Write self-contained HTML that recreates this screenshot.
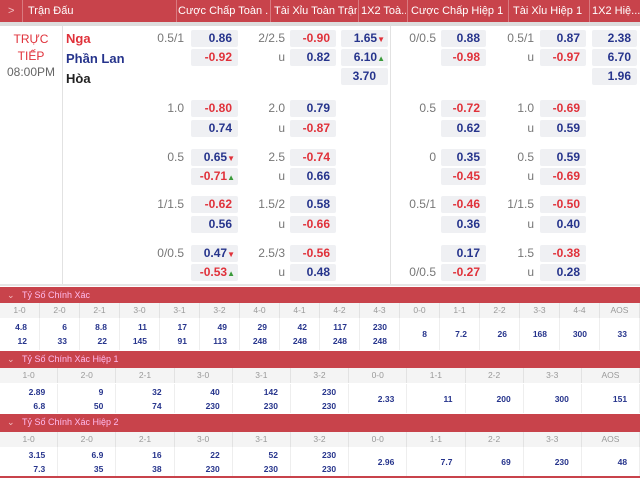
<!DOCTYPE html>
<html><head><meta charset="utf-8"><style>
*{margin:0;padding:0;box-sizing:border-box}
body{width:640px;height:478px;overflow:hidden;background:#fff;font-family:"Liberation Sans","Noto Sans CJK SC",sans-serif;position:relative}
.a{position:absolute}
.hd{left:0;top:0;width:640px;height:22px;background:#c8434b}
.ht{position:absolute;top:5px;color:#fff;font-size:11px;white-space:nowrap;overflow:hidden}
.hs{position:absolute;top:0;width:1px;height:22px;background:#d97a80}
.c{position:absolute;height:17px;background:#eff0f3;border-radius:2px;font-size:12px;font-weight:bold;text-align:right;padding-right:6px;line-height:17px}
.b{color:#26348c}.r{color:#e0313a}
.l{position:absolute;font-size:12px;color:#777;text-align:right;line-height:17px;width:40px}
.dn{color:#e0313a;font-size:8px}.up{color:#3a9a3a;font-size:8px}
.bar{position:absolute;left:0;width:640px;background:#c8434b;color:#fbe;font-size:9px;line-height:16px;padding-left:22px}
.bar span{position:absolute;left:7px;color:#f3c0c3}
.row{position:absolute;left:0;width:640px;display:flex;background:#f4f4f4;height:15px}
.row div{flex:1;text-align:center;font-size:8.5px;color:#999;line-height:15px;border-right:1px solid #e2e2e2}
.vr{position:absolute;left:0;width:640px;display:flex}
.vr div{flex:1;text-align:right;padding-right:12px;font-size:8.5px;font-weight:bold;color:#26348c;border-right:1px solid #eee;display:flex;flex-direction:column;justify-content:center;line-height:14px}
</style></head><body>
<div class="a hd">
<div class="ht" style="left:8px;color:#f3c0c3">&gt;</div><div class="hs" style="left:22px"></div>
<div class="ht" style="left:28px">Trận Đấu</div><div class="hs" style="left:176px"></div>
<div class="ht" style="left:178px;width:90px">Cược Chấp Toàn ...</div><div class="hs" style="left:270px"></div>
<div class="ht" style="left:274px;width:83px">Tài Xỉu Toàn Trận</div><div class="hs" style="left:358px"></div>
<div class="ht" style="left:361px;width:45px">1X2 Toà...</div><div class="hs" style="left:407px"></div>
<div class="ht" style="left:411px;width:96px">Cược Chấp Hiệp 1</div><div class="hs" style="left:508px"></div>
<div class="ht" style="left:513px;width:75px">Tài Xỉu Hiệp 1</div><div class="hs" style="left:589px"></div>
<div class="ht" style="left:592px;width:48px">1X2 Hiệ...</div>
</div>
<div class="a" style="left:0;top:22px;width:640px;height:4px;background:#ddd"></div>
<div class="a" style="left:62px;top:26px;width:1px;height:259px;background:#e2e2e2"></div>
<div class="a" style="left:390px;top:26px;width:1px;height:259px;background:#e2e2e2"></div>
<div class="a" style="left:0;top:284px;width:640px;height:2px;background:#e6e6e6"></div>
<div class="a" style="left:0;top:31px;width:62px;text-align:center;color:#e0313a;font-size:12px;line-height:17px">TRỰC<br>TIẾP</div>
<div class="a" style="left:0;top:65px;width:62px;text-align:center;color:#666;font-size:12px">08:00PM</div>
<div class="a" style="left:66px;top:31px;font-size:13px;font-weight:bold;color:#e0313a">Nga</div>
<div class="a" style="left:66px;top:51px;font-size:13px;font-weight:bold;color:#26348c">Phần Lan</div>
<div class="a" style="left:66px;top:71px;font-size:13px;font-weight:bold;color:#222">Hòa</div>

<div class="l" style="left:144px;top:30px">0.5/1</div>
<div class="c b" style="left:191px;top:30px;width:47px">0.86</div>
<div class="c r" style="left:191px;top:49px;width:47px">-0.92</div>
<div class="l" style="left:245px;top:30px">2/2.5</div>
<div class="c r" style="left:290px;top:30px;width:46px">-0.90</div>
<div class="l" style="left:245px;top:49px">u</div>
<div class="c b" style="left:290px;top:49px;width:46px">0.82</div>
<div class="c b" style="left:341px;top:30px;width:47px;padding-right:3px">1.65<span class="dn">▼</span></div>
<div class="c b" style="left:341px;top:49px;width:47px;padding-right:3px">6.10<span class="up">▲</span></div>
<div class="c b" style="left:341px;top:68px;width:47px;padding-right:12px">3.70</div>
<div class="l" style="left:396px;top:30px">0/0.5</div>
<div class="c b" style="left:441px;top:30px;width:45px">0.88</div>
<div class="c r" style="left:441px;top:49px;width:45px">-0.98</div>
<div class="l" style="left:494px;top:30px">0.5/1</div>
<div class="c b" style="left:540px;top:30px;width:46px">0.87</div>
<div class="l" style="left:494px;top:49px">u</div>
<div class="c r" style="left:540px;top:49px;width:46px">-0.97</div>
<div class="c b" style="left:592px;top:30px;width:45px">2.38</div>
<div class="c b" style="left:592px;top:49px;width:45px">6.70</div>
<div class="c b" style="left:592px;top:68px;width:45px">1.96</div>

<div class="l" style="left:144px;top:100px">1.0</div>
<div class="c r" style="left:191px;top:100px;width:47px">-0.80</div>
<div class="c b" style="left:191px;top:120px;width:47px">0.74</div>
<div class="l" style="left:245px;top:100px">2.0</div>
<div class="c b" style="left:290px;top:100px;width:46px">0.79</div>
<div class="l" style="left:245px;top:120px">u</div>
<div class="c r" style="left:290px;top:120px;width:46px">-0.87</div>
<div class="l" style="left:396px;top:100px">0.5</div>
<div class="c r" style="left:441px;top:100px;width:45px">-0.72</div>
<div class="c b" style="left:441px;top:120px;width:45px">0.62</div>
<div class="l" style="left:494px;top:100px">1.0</div>
<div class="c r" style="left:540px;top:100px;width:46px">-0.69</div>
<div class="l" style="left:494px;top:120px">u</div>
<div class="c b" style="left:540px;top:120px;width:46px">0.59</div>

<div class="l" style="left:144px;top:149px">0.5</div>
<div class="c b" style="left:191px;top:149px;width:47px;padding-right:3px">0.65<span class="dn">▼</span></div>
<div class="c r" style="left:191px;top:168px;width:47px;padding-right:3px">-0.71<span class="up">▲</span></div>
<div class="l" style="left:245px;top:149px">2.5</div>
<div class="c r" style="left:290px;top:149px;width:46px">-0.74</div>
<div class="l" style="left:245px;top:168px">u</div>
<div class="c b" style="left:290px;top:168px;width:46px">0.66</div>
<div class="l" style="left:396px;top:149px">0</div>
<div class="c b" style="left:441px;top:149px;width:45px">0.35</div>
<div class="c r" style="left:441px;top:168px;width:45px">-0.45</div>
<div class="l" style="left:494px;top:149px">0.5</div>
<div class="c b" style="left:540px;top:149px;width:46px">0.59</div>
<div class="l" style="left:494px;top:168px">u</div>
<div class="c r" style="left:540px;top:168px;width:46px">-0.69</div>

<div class="l" style="left:144px;top:196px">1/1.5</div>
<div class="c r" style="left:191px;top:196px;width:47px">-0.62</div>
<div class="c b" style="left:191px;top:216px;width:47px">0.56</div>
<div class="l" style="left:245px;top:196px">1.5/2</div>
<div class="c b" style="left:290px;top:196px;width:46px">0.58</div>
<div class="l" style="left:245px;top:216px">u</div>
<div class="c r" style="left:290px;top:216px;width:46px">-0.66</div>
<div class="l" style="left:396px;top:196px">0.5/1</div>
<div class="c r" style="left:441px;top:196px;width:45px">-0.46</div>
<div class="c b" style="left:441px;top:216px;width:45px">0.36</div>
<div class="l" style="left:494px;top:196px">1/1.5</div>
<div class="c r" style="left:540px;top:196px;width:46px">-0.50</div>
<div class="l" style="left:494px;top:216px">u</div>
<div class="c b" style="left:540px;top:216px;width:46px">0.40</div>

<div class="l" style="left:144px;top:245px">0/0.5</div>
<div class="c b" style="left:191px;top:245px;width:47px;padding-right:3px">0.47<span class="dn">▼</span></div>
<div class="c r" style="left:191px;top:264px;width:47px;padding-right:3px">-0.53<span class="up">▲</span></div>
<div class="l" style="left:245px;top:245px">2.5/3</div>
<div class="c r" style="left:290px;top:245px;width:46px">-0.56</div>
<div class="l" style="left:245px;top:264px">u</div>
<div class="c b" style="left:290px;top:264px;width:46px">0.48</div>
<div class="c b" style="left:441px;top:245px;width:45px">0.17</div>
<div class="l" style="left:396px;top:264px">0/0.5</div>
<div class="c r" style="left:441px;top:264px;width:45px">-0.27</div>
<div class="l" style="left:494px;top:245px">1.5</div>
<div class="c r" style="left:540px;top:245px;width:46px">-0.38</div>
<div class="l" style="left:494px;top:264px">u</div>
<div class="c b" style="left:540px;top:264px;width:46px">0.28</div>

<div class="bar" style="top:287px;height:16px"><span>⌄</span>Tỷ Số Chính Xác</div>
<div class="row" style="top:303px"><div>1-0</div><div>2-0</div><div>2-1</div><div>3-0</div><div>3-1</div><div>3-2</div><div>4-0</div><div>4-1</div><div>4-2</div><div>4-3</div><div>0-0</div><div>1-1</div><div>2-2</div><div>3-3</div><div>4-4</div><div>AOS</div></div>
<div class="vr" style="top:318px;height:32px"><div>4.8<br>12</div><div>6<br>33</div><div>8.8<br>22</div><div>11<br>145</div><div>17<br>91</div><div>49<br>113</div><div>29<br>248</div><div>42<br>248</div><div>117<br>248</div><div>230<br>248</div><div>8</div><div>7.2</div><div>26</div><div>168</div><div>300</div><div>33</div></div>

<div class="bar" style="top:351px;height:17px"><span>⌄</span>Tỷ Số Chính Xác Hiệp 1</div>
<div class="row" style="top:368px"><div>1-0</div><div>2-0</div><div>2-1</div><div>3-0</div><div>3-1</div><div>3-2</div><div>0-0</div><div>1-1</div><div>2-2</div><div>3-3</div><div>AOS</div></div>
<div class="vr" style="top:384px;height:29px"><div>2.89<br>6.8</div><div>9<br>50</div><div>32<br>74</div><div>40<br>230</div><div>142<br>230</div><div>230<br>230</div><div>2.33</div><div>11</div><div>200</div><div>300</div><div>151</div></div>

<div class="bar" style="top:414px;height:18px"><span>⌄</span>Tỷ Số Chính Xác Hiệp 2</div>
<div class="row" style="top:432px"><div>1-0</div><div>2-0</div><div>2-1</div><div>3-0</div><div>3-1</div><div>3-2</div><div>0-0</div><div>1-1</div><div>2-2</div><div>3-3</div><div>AOS</div></div>
<div class="vr" style="top:447px;height:29px"><div>3.15<br>7.3</div><div>6.9<br>35</div><div>16<br>38</div><div>22<br>230</div><div>52<br>230</div><div>230<br>230</div><div>2.96</div><div>7.7</div><div>69</div><div>230</div><div>48</div></div>
<div class="a" style="left:0;top:476px;width:640px;height:2px;background:#c8434b"></div>
</body></html>
